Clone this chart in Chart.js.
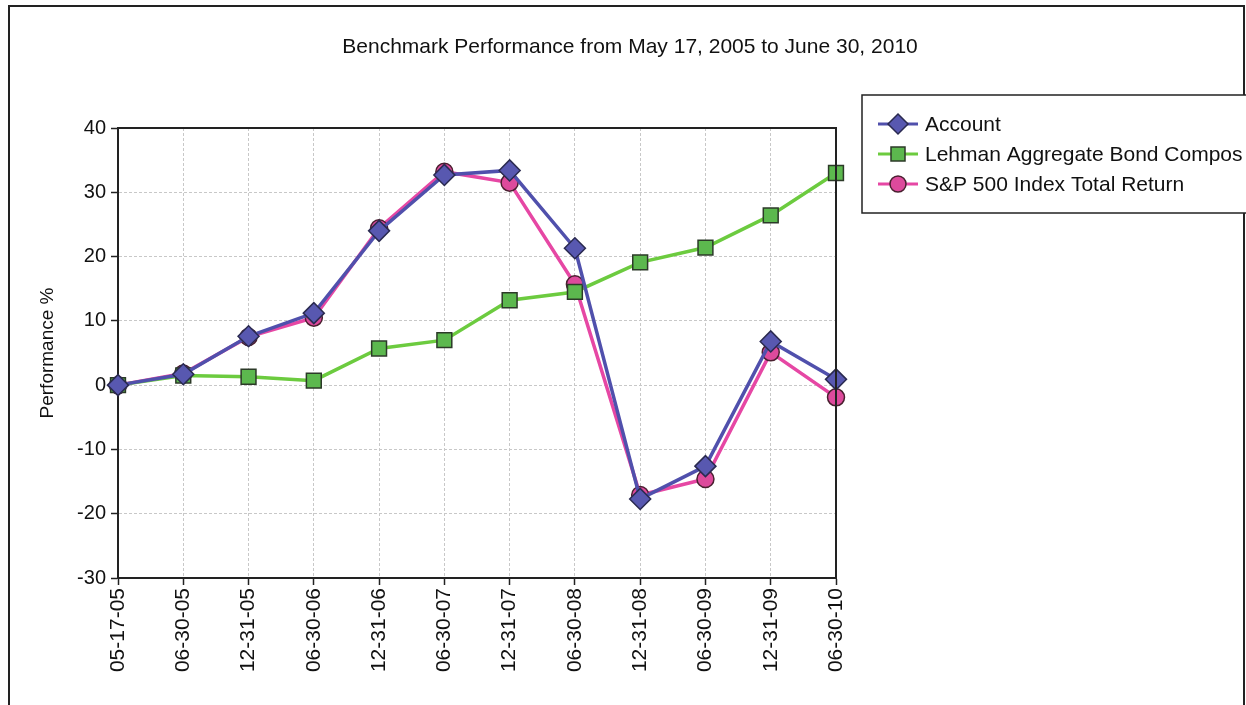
<!DOCTYPE html>
<html>
<head>
<meta charset="utf-8">
<script src="https://cdn.jsdelivr.net/npm/chart.js@4/dist/chart.umd.min.js"></script>
<style>
  html, body { margin: 0; padding: 0; background: #fff; }
  #wrap { position: relative; width: 1246px; height: 705px; }
</style>
</head>
<body>
<div id="wrap"><canvas id="perf-chart"></canvas></div>
<script>
// 資料
const dates = ['05-17-05', '06-30-05', '12-31-05', '06-30-06', '12-31-06', '06-30-07',
               '12-31-07', '06-30-08', '12-31-08', '06-30-09', '12-31-09', '06-30-10'];
const account = [0, 1.7, 7.6, 11.2, 24.0, 32.7, 33.4, 21.3, -17.7, -12.6, 6.8, 0.9];
const lehman = [0, 1.5, 1.3, 0.7, 5.7, 7.0, 13.2, 14.5, 19.1, 21.4, 26.4, 33.0];
const sp500 = [0, 1.8, 7.5, 10.5, 24.4, 33.2, 31.5, 15.7, -17.1, -14.6, 5.1, -1.9];
const yTicks = [-30, -20, -10, 0, 10, 20, 30, 40];
const seriesNames = ['Account', 'Lehman Aggregate Bond Compos', 'S&P 500 Index Total Return'];

const FONT = '"Liberation Sans", Arial, sans-serif';

// 外框、標題、圖例
const decorPlugin = {
    id: 'decor',
    afterDraw(chart) {
        const ctx = chart.ctx;
        const a = chart.chartArea;
        ctx.save();
        // 外框
        ctx.strokeStyle = '#222';
        ctx.lineWidth = 2;
        ctx.strokeRect(9, 6, 1235, 720);
        // 繪圖區上、右邊線
        ctx.lineWidth = 2;
        ctx.beginPath();
        ctx.moveTo(a.left, a.top);
        ctx.lineTo(a.right, a.top);
        ctx.lineTo(a.right, a.bottom);
        ctx.stroke();
        // 標題
        ctx.fillStyle = '#111';
        ctx.font = '21px ' + FONT;
        ctx.textAlign = 'center';
        ctx.textBaseline = 'middle';
        ctx.fillText('Benchmark Performance from May 17, 2005 to June 30, 2010', 630, 47);
        // 圖例
        ctx.fillStyle = '#fff';
        ctx.fillRect(862, 95, 400, 118);
        ctx.strokeStyle = '#222';
        ctx.lineWidth = 1.5;
        ctx.strokeRect(862, 95, 400, 118);
        const rows = [124, 154, 184];
        chart.data.datasets.forEach((ds, i) => {
            const y = rows[i];
            ctx.strokeStyle = ds.borderColor;
            ctx.lineWidth = 3;
            ctx.beginPath();
            ctx.moveTo(878, y);
            ctx.lineTo(918, y);
            ctx.stroke();
            ctx.fillStyle = ds.pointBackgroundColor;
            ctx.strokeStyle = ds.pointBorderColor;
            ctx.lineWidth = 1.5;
            ctx.beginPath();
            if (ds.pointStyle === 'rectRot') {
                ctx.moveTo(898, y - 10); ctx.lineTo(908, y); ctx.lineTo(898, y + 10); ctx.lineTo(888, y);
                ctx.closePath();
            } else if (ds.pointStyle === 'rect') {
                ctx.rect(891, y - 7, 14, 14);
            } else {
                ctx.arc(898, y, 8, 0, Math.PI * 2);
            }
            ctx.fill();
            ctx.stroke();
            ctx.fillStyle = '#111';
            ctx.font = '21px ' + FONT;
            ctx.textAlign = 'left';
            ctx.textBaseline = 'middle';
            ctx.fillText(ds.label, 925, y + 1);
        });
        ctx.restore();
    }
};

function initChart() {
    const ctx = document.getElementById('perf-chart').getContext('2d');
    new Chart(ctx, {
        type: 'line',
        data: {
            labels: dates,
            datasets: [
                {
                    label: seriesNames[0],
                    data: account,
                    borderColor: '#5050AC',
                    borderWidth: 3.5,
                    pointStyle: 'rectRot',
                    pointRadius: 10.5,
                    pointBackgroundColor: '#5858B0',
                    pointBorderColor: '#2a2a50',
                    pointBorderWidth: 1.5,
                    tension: 0
                },
                {
                    label: seriesNames[1],
                    data: lehman,
                    borderColor: '#6CCB3F',
                    borderWidth: 3.5,
                    pointStyle: 'rect',
                    pointRadius: 10.5,
                    pointBackgroundColor: '#5CB84E',
                    pointBorderColor: '#2c3a28',
                    pointBorderWidth: 1.5,
                    tension: 0
                },
                {
                    label: seriesNames[2],
                    data: sp500,
                    borderColor: '#E647A4',
                    borderWidth: 3.5,
                    pointStyle: 'circle',
                    pointRadius: 8.5,
                    pointBackgroundColor: '#DD4A9C',
                    pointBorderColor: '#4a2030',
                    pointBorderWidth: 1.5,
                    tension: 0
                }
            ]
        },
        options: {
            responsive: true,
            maintainAspectRatio: false,
            animation: false,
            layout: { padding: { top: 128, right: 410, left: 0, bottom: 0 } },
            plugins: {
                legend: { display: false },
                title: { display: false },
                tooltip: { enabled: false }
            },
            scales: {
                x: {
                    offset: false,
                    afterFit(scale) { scale.height = 127; },
                    grid: { color: '#c8c8c8', tickColor: '#222', tickLength: 7, tickWidth: 1.5 },
                    border: { color: '#222', width: 2, dash: [3, 2] },
                    ticks: {
                        autoSkip: false,
                        minRotation: 90,
                        maxRotation: 90,
                        padding: 3,
                        color: '#111',
                        font: { family: FONT, size: 21 }
                    }
                },
                y: {
                    min: -30,
                    max: 40,
                    afterFit(scale) { scale.width = 118; },
                    afterBuildTicks(scale) { scale.ticks = yTicks.map(v => ({ value: v })); },
                    grid: { color: '#c8c8c8', tickColor: '#222', tickLength: 7, tickWidth: 1.5 },
                    border: { color: '#222', width: 2, dash: [3, 2] },
                    ticks: { padding: 5, color: '#111', font: { family: FONT, size: 20 } },
                    title: {
                        display: true,
                        text: 'Performance %',
                        color: '#111',
                        font: { family: FONT, size: 19 },
                        padding: { top: 36, bottom: 0 }
                    }
                }
            }
        },
        plugins: [decorPlugin]
    });
}

document.addEventListener('DOMContentLoaded', () => {
    initChart();
});
</script>
</body>
</html>
